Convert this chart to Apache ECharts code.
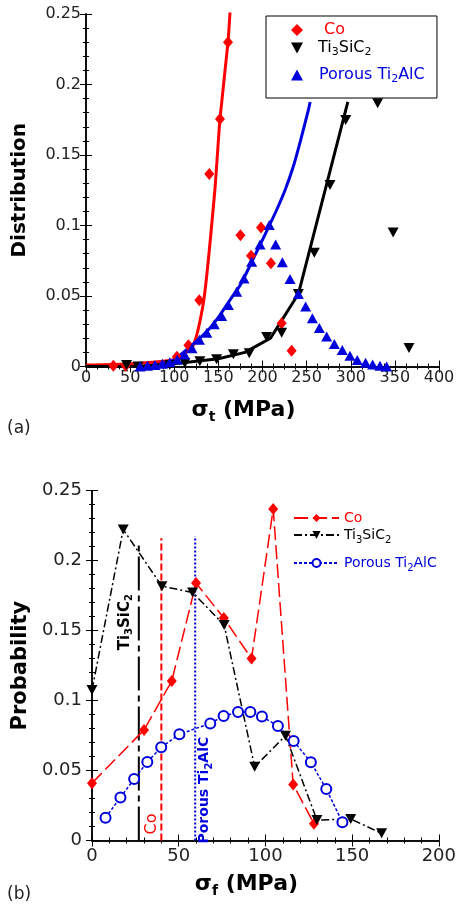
<!DOCTYPE html>
<html><head><meta charset="utf-8">
<script src="https://cdn.jsdelivr.net/npm/echarts@6/dist/echarts.min.js"></script>
<style>html,body{margin:0;padding:0;background:#fff}#c{width:459px;height:911px}</style>
</head><body><div id="c"></div>
<script>
// ---------- (a) Distribution vs sigma_t ----------
const coPtsA = [[31,0.0005],[45,0.0005],[103,0.007],[116,0.015],[128.4,0.047],[139.7,0.1365],[151.8,0.1755],[160.9,0.23],[175,0.093],[187,0.0786],[198.3,0.0985],[209.6,0.0732],[221.7,0.0306],[233,0.0112]];
const coFitA = [[0,0.001],[50,0.002],[100,0.005],[121.6,0.015],[133.7,0.048],[146,0.125],[151.8,0.1755],[160.9,0.23],[164,0.26]];
const tiPtsA = [[46,0.001],[59,0],[95,0.001],[112,0.0025],[129,0.0038],[148,0.0052],[167,0.0086],[185,0.0094],[204.7,0.021],[221.7,0.024],[240.6,0.0514],[258.7,0.0807],[276.5,0.1287],[294.3,0.1748],[330.5,0.1867],[348,0.095],[366,0.0131]];
// fitted curves end where they pass under the legend box
const tiFitA = [[0,0],[60,0],[100,0.002],[150,0.0055],[180,0.01],[209,0.02],[240.6,0.0514],[296.7,0.1876]];
const poPtsA = [[61.3,0],[69.7,0.0005],[78.1,0.001],[86.5,0.002],[94.9,0.003],[103.3,0.005],[111.7,0.0085],[120.1,0.013],[128.5,0.019],[136.9,0.024],[145.3,0.03],[153.7,0.0358],[161.3,0.0436],[170.7,0.0531],[179,0.0625],[187.7,0.0743],[197.2,0.0866],[207.7,0.1004],[214.9,0.0866],[222.5,0.0739],[231.2,0.0621],[240.6,0.0514],[248.9,0.0425],[256.5,0.0342],[264.4,0.0273],[272.7,0.0212],[281.4,0.016],[290.4,0.0117],[299.1,0.0077],[307.4,0.0046],[316.8,0.0027],[324.8,0.0015],[333.1,0.0006],[340.7,0]];
const poFitA = [[0,0],[60,0],[80,0.001],[100,0.005],[121.6,0.016],[140,0.027],[151.8,0.0365],[163,0.047],[175,0.058],[187.7,0.074],[197,0.086],[207,0.099],[216,0.111],[225.5,0.125],[235,0.142],[243,0.16],[252,0.182],[254,0.1876]];

// ---------- (b) Probability vs sigma_f ----------
const coPtsB = [[0,0.041],[30,0.079],[46,0.114],[60,0.184],[76,0.159],[92,0.13],[104.5,0.237],[116,0.04],[128,0.012]];
const tiPtsB = [[0,0.1075],[18,0.2223],[40.3,0.1818],[58,0.1773],[76.2,0.154],[93.8,0.0527],[111.6,0.0749],[129.7,0.0146],[149.2,0.0154],[167,0.0051]];
const poPtsB = [[7.8,0.0163],[16.4,0.0308],[24.3,0.0439],[31.9,0.0561],[39.9,0.0666],[50.4,0.0759],[68.2,0.0837],[75.9,0.089],[84.2,0.0918],[91.3,0.0918],[98,0.0887],[107.2,0.0818],[116.3,0.0711],[126.2,0.0559],[135.1,0.0368],[144.4,0.013]];
// mean-strength reference lines
const refTi = [[27,0],[27,0.211]];
const refCo = [[40,0],[40,0.216]];
const refPo = [[59.5,0],[59.5,0.2175]];

const FF = 'DejaVu Sans';
const RED = '#ff0000', BLK = '#000000', BLUE = '#0000dd';

function axisBase(fs, split, margin, showLabel) {
  return {
    axisLine: {lineStyle: {color: '#000', width: 1.5}},
    axisTick: {inside: true, length: 6, lineStyle: {color: '#000', width: 1}},
    minorTick: {show: true, splitNumber: split, length: 3, lineStyle: {color: '#000', width: 1}},
    splitLine: {show: false},
    axisLabel: {show: showLabel, color: '#222', fontFamily: FF, fontSize: fs, margin: margin}
  };
}

const subRich = (fs) => ({
  n: {fontFamily: FF, fontWeight: 'bold', fontSize: fs, lineHeight: 28, color: '#000'},
  s: {fontFamily: FF, fontWeight: 'bold', fontSize: Math.round(fs * 0.65), lineHeight: 12, verticalAlign: 'bottom', color: '#000'}
});

const option = {
  animation: false,
  backgroundColor: '#fff',
  grid: [
    {left: 86, right: 20, top: 14, bottom: 544.5},
    {left: 92, right: 18, top: 490.7, bottom: 70.5}
  ],
  xAxis: [
    Object.assign(axisBase(16, 4, 3, true), {gridIndex: 0, type: 'value', min: 0, max: 400, interval: 50,
      name: '{n|σ}{s|t}{n| (MPa)}', nameLocation: 'middle', nameGap: 30,
      nameTextStyle: {rich: subRich(22), padding: [0, 38, 0, 0]}}),
    Object.assign(axisBase(16, 4, 3, false), {gridIndex: 0, type: 'value', min: 0, max: 400, interval: 50, position: 'top'}),
    Object.assign(axisBase(18, 5, 7, true), {gridIndex: 1, type: 'value', min: 0, max: 200, interval: 50,
      name: '{n|σ}{s|f}{n| (MPa)}', nameLocation: 'middle', nameGap: 30,
      nameTextStyle: {rich: subRich(22), padding: [0, 38, 0, 0]}}),
    Object.assign(axisBase(18, 5, 7, false), {gridIndex: 1, type: 'value', min: 0, max: 200, interval: 50, position: 'top'})
  ],
  yAxis: [
    Object.assign(axisBase(16, 5, 5, true), {gridIndex: 0, type: 'value', min: 0, max: 0.25, interval: 0.05,
      name: 'Distribution', nameLocation: 'middle', nameGap: 56,
      nameTextStyle: {fontFamily: FF, fontWeight: 'bold', fontSize: 20, color: '#000'}}),
    Object.assign(axisBase(16, 5, 5, false), {gridIndex: 0, type: 'value', min: 0, max: 0.25, interval: 0.05, position: 'right'}),
    Object.assign(axisBase(18, 5, 10, true), {gridIndex: 1, type: 'value', min: 0, max: 0.25, interval: 0.05,
      name: 'Probability', nameLocation: 'middle', nameGap: 58,
      nameTextStyle: {fontFamily: FF, fontWeight: 'bold', fontSize: 21, color: '#000'}}),
    Object.assign(axisBase(18, 5, 10, false), {gridIndex: 1, type: 'value', min: 0, max: 0.25, interval: 0.05, position: 'right'})
  ],
  legend: [
    {data: [{name: 'Co', icon: 'diamond'}], left: 266, top: 16, itemWidth: 12, itemHeight: 12, selectedMode: false, z: 20,
      padding: [6, 92, 60, 25], backgroundColor: '#ffffff', borderColor: '#000', borderWidth: 1,
      formatter: () => '{a|Co}', textStyle: {rich: {a: {color: RED, fontFamily: FF, fontSize: 16, lineHeight: 20, padding: [0, 0, 0, 16]}}}},
    {data: [{name: 'Ti3SiC2', icon: 'path://M0,0 L10,0 L5,9 Z'}], left: 291, top: 40, itemWidth: 12, itemHeight: 11, padding: 0, selectedMode: false, z: 21,
      formatter: () => '{a|Ti}{s|3}{b|SiC}{s|2}', textStyle: {rich: {
        a: {color: BLK, fontFamily: FF, fontSize: 16, lineHeight: 20, padding: [0, 0, 0, 10]},
        b: {color: BLK, fontFamily: FF, fontSize: 16, lineHeight: 20},
        s: {color: BLK, fontFamily: FF, fontSize: 11, lineHeight: 8, verticalAlign: 'bottom'}}}},
    {data: [{name: 'Porous Ti2AlC', icon: 'triangle'}], left: 291, top: 67, itemWidth: 12, itemHeight: 11, padding: 0, selectedMode: false, z: 21,
      formatter: () => '{a|Porous Ti}{s|2}{b|AlC}', textStyle: {rich: {
        a: {color: BLUE, fontFamily: FF, fontSize: 16, lineHeight: 20, padding: [0, 0, 0, 11]},
        b: {color: BLUE, fontFamily: FF, fontSize: 16, lineHeight: 20},
        s: {color: BLUE, fontFamily: FF, fontSize: 11, lineHeight: 8, verticalAlign: 'bottom'}}}},
    {data: ['Co '], left: 293, top: 511, itemWidth: 45, itemHeight: 10, padding: 0, selectedMode: false,
      formatter: () => '{a|Co}', textStyle: {rich: {a: {color: RED, fontFamily: FF, fontSize: 14, lineHeight: 20}}}},
    {data: ['Ti3SiC2 '], left: 293, top: 528, itemWidth: 45, itemHeight: 10, padding: 0, selectedMode: false,
      formatter: () => '{a|Ti}{s|3}{a|SiC}{s|2}', textStyle: {rich: {
        a: {color: BLK, fontFamily: FF, fontSize: 14, lineHeight: 20},
        s: {color: BLK, fontFamily: FF, fontSize: 10, lineHeight: 8, verticalAlign: 'bottom'}}}},
    {data: ['Porous Ti2AlC '], left: 293, top: 556, itemWidth: 45, itemHeight: 10, padding: 0, selectedMode: false,
      formatter: () => '{a|Porous Ti}{s|2}{a|AlC}', textStyle: {rich: {
        a: {color: BLUE, fontFamily: FF, fontSize: 14, lineHeight: 20},
        s: {color: BLUE, fontFamily: FF, fontSize: 10, lineHeight: 8, verticalAlign: 'bottom'}}}}
  ],
  series: [
    // (a) fitted curves
    {type: 'line', name: 'coFit', xAxisIndex: 0, yAxisIndex: 0, data: coFitA, showSymbol: false, smooth: 0.2, lineStyle: {color: RED, width: 3}, z: 2},
    {type: 'line', name: 'poFit', xAxisIndex: 0, yAxisIndex: 0, data: poFitA, showSymbol: false, smooth: 0.2, lineStyle: {color: BLUE, width: 3}, z: 2},
    {type: 'line', name: 'tiFit', xAxisIndex: 0, yAxisIndex: 0, data: tiFitA, showSymbol: false, lineStyle: {color: BLK, width: 3}, z: 2},
    // (a) points
    {type: 'scatter', name: 'Co', xAxisIndex: 0, yAxisIndex: 0, data: coPtsA, symbol: 'diamond', symbolSize: [10, 12], itemStyle: {color: RED, opacity: 1}, z: 3},
    {type: 'scatter', name: 'Ti3SiC2', xAxisIndex: 0, yAxisIndex: 0, data: tiPtsA, symbol: 'triangle', symbolRotate: 180, symbolSize: [11, 10], itemStyle: {color: BLK, opacity: 1}, z: 3},
    {type: 'scatter', name: 'Porous Ti2AlC', xAxisIndex: 0, yAxisIndex: 0, data: poPtsA, symbol: 'triangle', symbolSize: [11, 10], itemStyle: {color: BLUE, opacity: 1}, z: 3},
    // (b) reference lines
    {type: 'line', name: 'refTi', xAxisIndex: 2, yAxisIndex: 2, data: refTi, showSymbol: false, lineStyle: {color: BLK, width: 2, type: [34, 5, 6, 5]}},
    {type: 'line', name: 'refCo', xAxisIndex: 2, yAxisIndex: 2, data: refCo, showSymbol: false, lineStyle: {color: RED, width: 2, type: [7, 3]}},
    {type: 'line', name: 'refPo', xAxisIndex: 2, yAxisIndex: 2, data: refPo, showSymbol: false, lineStyle: {color: BLUE, width: 2, type: [2, 2]}},
    // (b) distributions
    {type: 'line', name: 'Co ', xAxisIndex: 2, yAxisIndex: 2, data: coPtsB, symbol: 'diamond', symbolSize: [10, 12], showAllSymbol: true,
      lineStyle: {color: RED, width: 1.5, type: [14, 5]}, itemStyle: {color: RED}},
    {type: 'line', name: 'Ti3SiC2 ', xAxisIndex: 2, yAxisIndex: 2, data: tiPtsB, symbol: 'triangle', symbolRotate: 180, symbolSize: [11, 10], showAllSymbol: true,
      lineStyle: {color: BLK, width: 1.5, type: [8, 3, 2, 3]}, itemStyle: {color: BLK}},
    {type: 'line', name: 'Porous Ti2AlC ', xAxisIndex: 2, yAxisIndex: 2, data: poPtsB, symbol: 'emptyCircle', symbolSize: 10, showAllSymbol: true,
      lineStyle: {color: BLUE, width: 1.5, type: [3, 2]}, itemStyle: {color: BLUE, borderColor: BLUE, borderWidth: 1.3}}
  ]
};

const chart = echarts.init(document.getElementById('c'), null, {renderer: 'canvas'});
chart.setOption(option);

// annotations placed through the axes of panel (b)
const annoTi = [18.9, 0.156], annoCo = [34.3, 0.0118], annoPo = [64.8, 0.036];
const pTi = chart.convertToPixel({gridIndex: 1}, annoTi);
const pCo = chart.convertToPixel({gridIndex: 1}, annoCo);
const pPo = chart.convertToPixel({gridIndex: 1}, annoPo);
const R90 = Math.PI / 2;
chart.setOption({
  graphic: [
    {type: 'text', z: 10, x: pTi[0], y: pTi[1], rotation: R90, style: {text: '{a|Ti}{s|3}{a|SiC}{s|2}', align: 'center', verticalAlign: 'middle',
      rich: {a: {fontFamily: FF, fontWeight: 'bold', fontSize: 15, lineHeight: 20, fill: BLK, color: BLK}, s: {fontFamily: FF, fontWeight: 'bold', fontSize: 10, lineHeight: 8, verticalAlign: 'bottom', fill: BLK, color: BLK}}}},
    {type: 'text', z: 10, x: pCo[0], y: pCo[1], rotation: R90, style: {text: 'Co', align: 'center', verticalAlign: 'middle', fontFamily: FF, fontSize: 16, fill: RED}},
    {type: 'text', z: 10, x: pPo[0], y: pPo[1], rotation: R90, style: {text: '{a|Porous Ti}{s|2}{a|AlC}', align: 'center', verticalAlign: 'middle',
      rich: {a: {fontFamily: FF, fontWeight: 'bold', fontSize: 14, lineHeight: 20, fill: BLUE, color: BLUE}, s: {fontFamily: FF, fontWeight: 'bold', fontSize: 10, lineHeight: 8, verticalAlign: 'bottom', fill: BLUE, color: BLUE}}}},
    {type: 'text', z: 10, left: 7, top: 420, style: {text: '(a)', fontFamily: FF, fontSize: 17, fill: '#222'}},
    {type: 'text', z: 10, left: 7, top: 886, style: {text: '(b)', fontFamily: FF, fontSize: 17, fill: '#222'}}
  ]
});
</script></body></html>
